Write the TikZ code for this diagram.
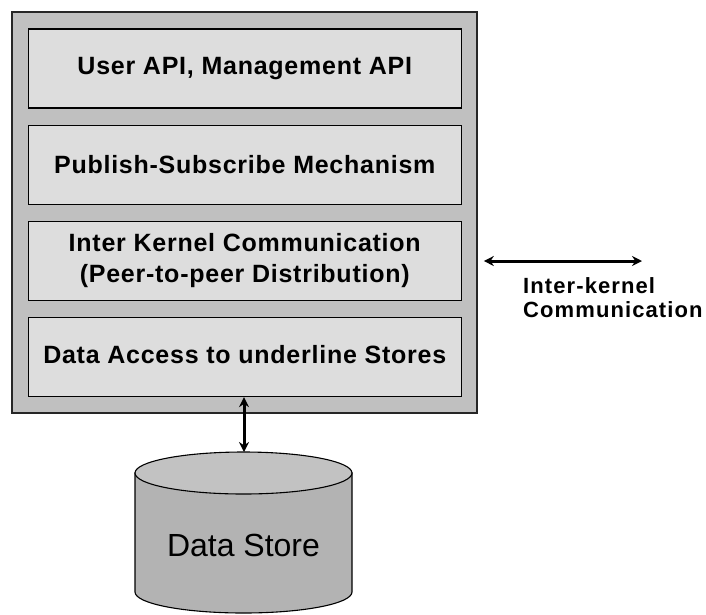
\documentclass[tikz,border=0pt]{standalone}
\usepackage{fontspec}
\setmainfont{Liberation Sans}
\usetikzlibrary{arrows.meta}
\definecolor{outergray}{HTML}{C0C0C0}
\definecolor{layergray}{HTML}{DDDDDD}
\definecolor{drumbody}{HTML}{B3B3B3}
\definecolor{drumtop}{HTML}{C2C2C2}
\begin{document}
\begin{tikzpicture}[x=1pt,y=-1pt,
  kernelbox/.style={draw=black!85, line width=1.6pt, fill=outergray,
    minimum width=465pt, minimum height=401pt, inner sep=0pt},
  layer/.style={draw=black, line width=1.3pt, fill=layergray,
    minimum width=433pt, minimum height=79pt, inner sep=0pt, align=center,
    font=\fontsize{25}{31}\selectfont\bfseries\addfontfeature{LetterSpace=3}},
  sidelabel/.style={align=left, inner sep=0pt, anchor=north west,
    font=\fontsize{22}{24}\selectfont\bfseries\addfontfeature{LetterSpace=5}},
  link/.style={line width=3pt, {Stealth[length=10pt,width=10pt]}-{Stealth[length=10pt,width=10pt]}}
]
\useasboundingbox (0,0) rectangle (706,614);

% kernel container and its four layers
\node[kernelbox] (kernel) at (244.5,212.5) {};
\node[layer] (api)    at (244.75,68.5) {User API, Management API};
\node[layer] (pubsub) at (244.75,165)  {Publish-Subscribe Mechanism};
\node[layer] (ikc)    at (244.75,261)  {Inter Kernel Communication\\(Peer-to-peer Distribution)};
\node[layer] (access) at (244.75,357)  {};
\node[font=\fontsize{25}{31}\selectfont\bfseries\addfontfeature{LetterSpace=3}, inner sep=0pt]
  (accesstext) at (244.75,355) {Data Access to underline Stores};

% data store drum
\fill[drumbody, draw=black, line width=1.1pt]
  (135,473) -- (135,592) arc[start angle=180, end angle=360, x radius=108.5, y radius=-21]
  -- (352,473) -- cycle;
\filldraw[fill=drumtop, draw=black, line width=1.1pt] (243.5,473) ellipse[x radius=108.5, y radius=21];
\coordinate (drumtop) at (243.5,452);
\node[font=\fontsize{32}{36}\selectfont] (store) at (243.5,545) {Data Store};

% connectors
\draw[link] (access.south -| 244,0) -- (drumtop -| 244,0);
\coordinate (peer) at (642,261);
\coordinate (ikcout) at ([xshift=6pt]kernel.east |- ikc);
\draw[link] (ikcout) -- (peer);
\node[sidelabel] (ikclabel) at (523,277) {Inter-kernel\\Communication};
\end{tikzpicture}
\end{document}
